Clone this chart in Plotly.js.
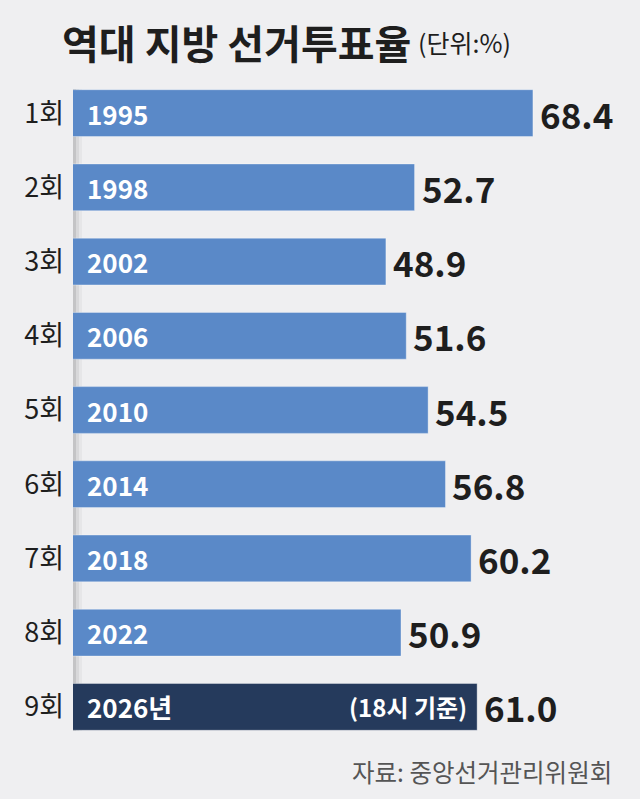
<!DOCTYPE html>
<html>
<head>
<meta charset="utf-8">
<script src="https://cdn.plot.ly/plotly-3.0.1.min.js"></script>
<style>
html,body{margin:0;padding:0;background:#efeff1;}
#chart{width:640px;height:799px;}
</style>
</head>
<body>
<div id="chart"></div>
<script>
// ---- data ----
const rounds = ['1회','2회','3회','4회','5회','6회','7회','8회','9회'];
const years = ['1995','1998','2002','2006','2010','2014','2018','2022','2026년'];
const turnout = [68.4, 52.7, 48.9, 51.6, 54.5, 56.8, 60.2, 50.9, 61.0];
const notes = ['', '', '', '', '', '', '', '', '(18시 기준)'];
const titleText = '역대 지방 선거투표율';
const unitText = '(단위:%)';
const sourceText = '자료: 중앙선거관리위원회';

// ---- style ----
const FONT = '"Noto Sans CJK KR", "Noto Sans", sans-serif';
const BLUE = '#5a89c8';
const NAVY = '#253a5c';
const BG = '#efeff1';
const W = 640, H = 799;
const M = {l: 73, r: 0, t: 76, b: 55};
const plotW = W - M.l - M.r, plotH = H - M.t - M.b;
const px = x => (x - M.l) / plotW;          // pixel -> paper x
const py = y => 1 - (y - M.t) / plotH;      // pixel -> paper y

const colors = turnout.map((v, i) => i === turnout.length - 1 ? NAVY : BLUE);

const trace = {
  type: 'bar',
  orientation: 'h',
  y: rounds,
  x: turnout,
  marker: {color: colors, line: {color: 'rgba(255,255,255,0.35)', width: 1}},
  width: 0.63,
  hoverinfo: 'skip'
};

const annotations = [];
rounds.forEach((r, i) => {
  annotations.push({
    xref: 'paper', yref: 'y', x: 0, y: r, xshift: 12, xanchor: 'left', yanchor: 'middle',
    text: years[i], showarrow: false,
    font: {family: FONT, size: 26, color: '#ffffff', weight: 700}
  });
  annotations.push({
    xref: 'x', yref: 'y', x: turnout[i], y: r, xshift: 5, xanchor: 'left', yanchor: 'middle',
    text: turnout[i].toFixed(1), showarrow: false,
    font: {family: FONT, size: 35, color: '#1e1e1e', weight: 700}
  });
  if (notes[i]) {
    annotations.push({
      xref: 'x', yref: 'y', x: turnout[i], y: r, xshift: -8, xanchor: 'right', yanchor: 'middle',
      text: notes[i], showarrow: false,
      font: {family: FONT, size: 24, color: '#ffffff', weight: 700}
    });
  }
});
annotations.push({
  xref: 'paper', yref: 'paper', x: px(60), y: py(42), xanchor: 'left', yanchor: 'middle',
  text: titleText, showarrow: false,
  font: {family: FONT, size: 40, color: '#1e1e1e', weight: 700}
});
annotations.push({
  xref: 'paper', yref: 'paper', x: px(416), y: py(42), xanchor: 'left', yanchor: 'middle',
  text: unitText, showarrow: false,
  font: {family: FONT, size: 25, color: '#1e1e1e', weight: 400}
});
annotations.push({
  xref: 'paper', yref: 'paper', x: px(614), y: py(771), xanchor: 'right', yanchor: 'middle',
  text: sourceText, showarrow: false,
  font: {family: FONT, size: 24.5, color: '#555555', weight: 400}
});

const shapes = [
  {type: 'rect', xref: 'paper', yref: 'paper', xsizemode: 'pixel', xanchor: 0, x0: 0, x1: 3,
   y0: py(731), y1: py(89), fillcolor: '#c4c4c6', line: {width: 0}, layer: 'below'},
  {type: 'rect', xref: 'paper', yref: 'paper', xsizemode: 'pixel', xanchor: 0, x0: 3, x1: 6,
   y0: py(731), y1: py(89), fillcolor: '#d8d8da', line: {width: 0}, layer: 'below'},
  {type: 'rect', xref: 'paper', yref: 'paper', xsizemode: 'pixel', xanchor: 0, x0: 6, x1: 9,
   y0: py(731), y1: py(89), fillcolor: '#e6e6e8', line: {width: 0}, layer: 'below'}
];

const layout = {
  width: W, height: H,
  margin: M,
  paper_bgcolor: BG, plot_bgcolor: BG,
  showlegend: false,
  xaxis: {range: [7.4, 82.6], visible: false, fixedrange: true},
  yaxis: {
    type: 'category', autorange: 'reversed', showgrid: false, zeroline: false,
    showline: false, ticks: '', ticklabelstandoff: 8,
    tickfont: {family: FONT, size: 27, color: '#1e1e1e'}
  },
  annotations: annotations,
  shapes: shapes,
  font: {family: FONT}
};

Plotly.newPlot('chart', [trace], layout, {displayModeBar: false, staticPlot: true});
</script>
</body>
</html>
